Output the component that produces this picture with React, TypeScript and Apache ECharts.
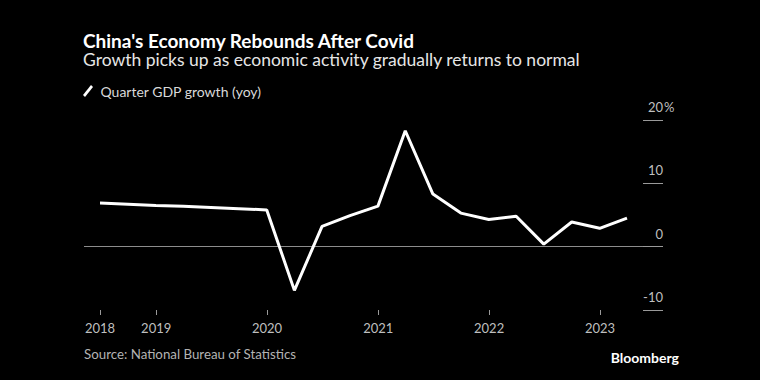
import React, { useEffect, useRef } from "react";
import * as echarts from "echarts";

const quarters = [
  "2018-06-30", "2018-09-30", "2018-12-31",
  "2019-03-31", "2019-06-30", "2019-09-30", "2019-12-31",
  "2020-03-31", "2020-06-30", "2020-09-30", "2020-12-31",
  "2021-03-31", "2021-06-30", "2021-09-30", "2021-12-31",
  "2022-03-31", "2022-06-30", "2022-09-30", "2022-12-31",
  "2023-03-31",
];
const gdpGrowth = [
  6.9, 6.7, 6.5,
  6.4, 6.2, 6.0, 5.8,
  -6.9, 3.2, 4.9, 6.4,
  18.3, 8.3, 5.3, 4.3,
  4.8, 0.4, 3.9, 2.9,
  4.5,
];
const xTickDates = ["2018-06-30", "2019-01-01", "2020-01-01", "2021-01-01", "2022-01-01", "2023-01-01"];
const yTicks = [-10, 0, 10, 20];

const TITLE = "China's Economy Rebounds After Covid";
const SUBTITLE = "Growth picks up as economic activity gradually returns to normal";
const SERIES_NAME = "Quarter GDP growth (yoy)";
const SOURCE = "Source: National Bureau of Statistics";

const FONT = "Lato";

const ts = (d: string) => Date.parse(d + "T00:00:00Z");

export default function App() {
  const ref = useRef<HTMLDivElement>(null);
  useEffect(() => {
    document.body.style.margin = "0";
    document.body.style.background = "#000000";
    if (!ref.current) return;
    const chart = echarts.init(ref.current, null, { renderer: "svg" });
    const t0 = ts(quarters[0]);
    const t1 = ts(quarters[quarters.length - 1]);
    // plot: data spans 527px, grid extends 16px left and 36px right
    const perPx = (t1 - t0) / 527;
    const xMin = t0 - 16 * perPx;
    const xMax = t1 + 36 * perPx;
    const data = quarters.map((q, i) => [ts(q), gdpGrowth[i]]);
    const tickVals = xTickDates.map(ts);

    chart.setOption({
      animation: false,
      backgroundColor: "#000000",
      textStyle: { fontFamily: FONT },
      title: [
        {
          text: TITLE,
          left: 83,
          top: 31,
          padding: 0,
          textStyle: { color: "#ffffff", fontSize: 19, fontWeight: "bold", fontFamily: FONT, lineHeight: 18 },
        },
        {
          text: SUBTITLE,
          left: 83,
          top: 50,
          padding: 0,
          textStyle: { color: "#e6e6e6", fontSize: 17.5, fontWeight: "normal", fontFamily: FONT, lineHeight: 18 },
        },
        {
          text: SOURCE,
          left: 84,
          top: 346,
          padding: 0,
          textStyle: { color: "#b3b3b3", fontSize: 13.3, fontWeight: "normal", fontFamily: FONT, lineHeight: 16 },
        },
        {
          text: "Bloomberg",
          right: 81,
          top: 349,
          padding: 0,
          textStyle: { color: "#ffffff", fontSize: 14, fontWeight: "bold", fontFamily: FONT, lineHeight: 16 },
        },
      ],
      legend: {
        left: 83,
        top: 84,
        padding: 0,
        itemWidth: 11,
        itemHeight: 12,
        icon: "path://M0,10 L8,0 L10,2 L2,12 Z",
        textStyle: { color: "#d9d9d9", fontSize: 14, fontFamily: FONT, padding: [0, 0, 0, 2] },
        data: [{ name: SERIES_NAME, itemStyle: { color: "#ffffff" } }],
      },
      graphic: [
        {
          type: "text",
          left: 664,
          top: 100,
          style: { text: "%", fill: "#bfbfbf", fontSize: 13, fontFamily: FONT },
        },
      ],
      grid: { left: 84, right: 97, top: 120, bottom: 70 },
      xAxis: {
        type: "value",
        min: xMin,
        max: xMax,
        axisLine: { show: false, onZero: false },
        splitLine: { show: false },
        axisTick: {
          show: true,
          length: 5,
          customValues: tickVals,
          lineStyle: { color: "#9a9a9a", width: 1 },
        },
        axisLabel: {
          customValues: tickVals,
          margin: 11,
          color: "#bfbfbf",
          fontSize: 13,
          fontFamily: FONT,
          formatter: (v: number) => String(new Date(v).getUTCFullYear()),
        },
      },
      yAxis: {
        type: "value",
        position: "right",
        min: yTicks[0],
        max: yTicks[yTicks.length - 1],
        interval: 10,
        axisLine: { show: false },
        axisTick: {
          show: true,
          inside: true,
          length: 20,
          lineStyle: { color: "#9a9a9a", width: 1 },
        },
        splitLine: {
          show: true,
          lineStyle: {
            color: ["rgba(0,0,0,0)", "#8c8c8c", "rgba(0,0,0,0)", "rgba(0,0,0,0)"],
            width: 1,
          },
        },
        axisLabel: {
          inside: true,
          margin: 0,
          align: "right",
          verticalAlign: "bottom",
          lineHeight: 16,
          padding: [0, 0, 5, 0],
          color: "#bfbfbf",
          fontSize: 13,
          fontFamily: FONT,
          formatter: (v: number) => String(v),
        },
      },
      series: [
        {
          name: SERIES_NAME,
          type: "line",
          data,
          showSymbol: false,
          symbol: "none",
          lineStyle: { color: "#ffffff", width: 3 },
          itemStyle: { color: "#ffffff" },
          z: 5,
        },
      ],
    });
    return () => chart.dispose();
  }, []);
  return <div ref={ref} style={{ width: 760, height: 380 }} />;
}
